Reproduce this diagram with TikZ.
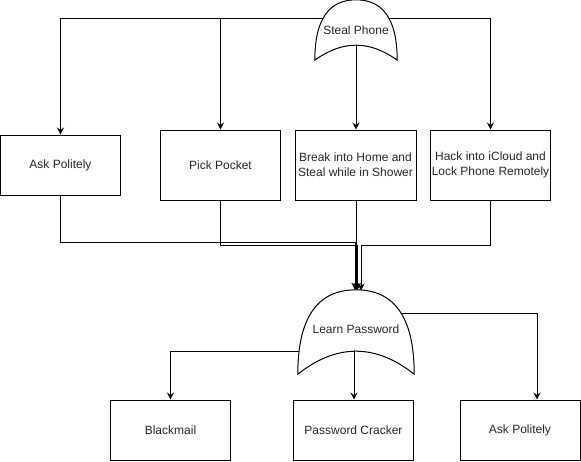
\documentclass[tikz,border=0pt]{standalone}
\usepackage{fontspec}
\setmainfont{Liberation Sans}
\usetikzlibrary{arrows.meta,calc}
\tikzset{
  line/.style={line width=1pt, draw=black},
  arr/.style={line, -{Stealth[length=7pt,width=7pt,inset=2.5pt]}},
  box/.style={draw=black, line width=1pt, minimum width=120pt, inner sep=0pt,
    align=center, font=\fontsize{12}{15}\selectfont, text=black!85},
  gatebox/.style={inner sep=0pt, draw=none, font=\fontsize{12}{15}\selectfont, text=black!85},
  gatetext/.style={inner sep=0pt, font=\fontsize{12}{15}\selectfont, text=black!85},
}
\newcommand\myorgate[2]{%
  \coordinate (#1-q) at ($(#1.south)+(0,-2*#2)$);
  \draw[line] (#1.south west)
    .. controls ($(#1.south west)!2/3!(#1.north west)$) and ($(#1.north)!2/3!(#1.north west)$) .. (#1.north)
    .. controls ($(#1.north)!2/3!(#1.north east)$) and ($(#1.south east)!2/3!(#1.north east)$) .. (#1.south east)
    .. controls ($(#1.south east)!2/3!(#1-q)$) and ($(#1.south west)!2/3!(#1-q)$) .. cycle;}
\begin{document}
\begin{tikzpicture}[x=1pt,y=-1pt]
\useasboundingbox (0,0) rectangle (581,461);
% gates
\node[gatebox, minimum width=82pt, minimum height=60pt] (sp) at (356,30) {Steal Phone};
\myorgate{sp}{15}
\node[gatebox, minimum width=116pt, minimum height=84pt] (lp) at (356,332) {};
\myorgate{lp}{23}
\node[gatetext] (lpt) at (356,329) {Learn Password};
% boxes
\node[box, minimum height=60pt] (ap1) at (60.5,165) {Ask Politely};
\node[box, minimum height=70pt] (pp) at (220.5,165) {Pick Pocket};
\node[box, minimum height=70pt, minimum width=121pt] (br) at (355.5,165) {Break into Home and\\Steal while in Shower};
\node[box, minimum height=70pt] (hk) at (490.5,165) {Hack into iCloud and\\Lock Phone Remotely};
\node[box, minimum height=60pt] (bm) at (170.5,430) {Blackmail};
\node[box, minimum height=60pt] (pc) at (353.5,430) {Password Cracker};
\node[box, minimum height=60pt] (ap2) at (520,430) {Ask Politely};
% connector points
\coordinate (spW) at (323.4,18);
\coordinate (spE) at (388.6,18);
\coordinate (spB) at (356,45);
\coordinate (jA) at (355,242.7);
\coordinate (jB) at (357.5,245);
\coordinate (jD) at (361,245.5);
\coordinate (inA) at (355,290);
\coordinate (inB) at (357.5,290);
\coordinate (inC) at (356,290);
\coordinate (inD) at (361,290.5);
\coordinate (lpW) at (299.2,351);
\coordinate (lpE) at (401,313);
\coordinate (lpB) at (354,350);
% top connectors
\draw[arr] (spW) -| (ap1.north);
\draw[arr] (spW) -| (pp.north);
\draw[arr] (spB) -- (spB |- br.north);
\draw[arr] (spE) -| (hk.north);
% into Learn Password
\draw[arr] (ap1.south) |- (jA) -- (inA);
\draw[arr] (pp.south) |- (jB) -- (inB);
\draw[arr] (br.south -| inC) -- (inC);
\draw[arr] (hk.south) |- (jD) -- (inD);
% out of Learn Password
\draw[arr] (lpW) -| (bm.north);
\draw[arr] (lpB) -- (lpB |- pc.north);
\draw[arr] (lpE) -| ([xshift=17pt]ap2.north);
\end{tikzpicture}
\end{document}
